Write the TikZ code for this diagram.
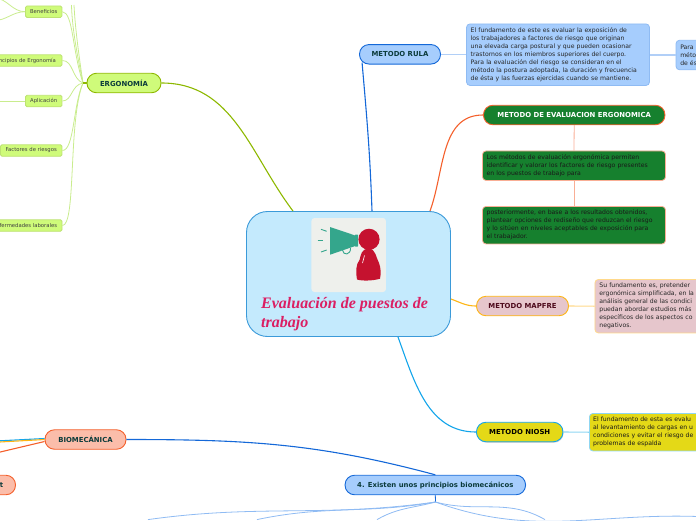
\documentclass[tikz,border=0pt]{standalone}
\usepackage{fontspec}
\setmainfont{DejaVu Sans}
\newfontfamily\titlefont{Liberation Serif}
\usetikzlibrary{shadows}
\definecolor{centerfill}{HTML}{C4EAFD}
\definecolor{centerline}{HTML}{3B9AD9}
\definecolor{titlepink}{HTML}{DB1F63}
\definecolor{iconbg}{HTML}{EEF0EC}
\definecolor{iconteal}{HTML}{34A68C}
\definecolor{iconred}{HTML}{C5122F}
\definecolor{limefill}{HTML}{CFFB7A}
\definecolor{limeline}{HTML}{8DB800}
\definecolor{limepale}{HTML}{C9EC8E}
\definecolor{bluefill}{HTML}{A6CDFD}
\definecolor{blueline}{HTML}{1468D8}
\definecolor{bluepale}{HTML}{8FBBF3}
\definecolor{evalfill}{HTML}{16802E}
\definecolor{orangeline}{HTML}{F4602C}
\definecolor{orangepale}{HTML}{F9AE95}
\definecolor{mapfill}{HTML}{E6C6CC}
\definecolor{mapline}{HTML}{FDB515}
\definecolor{mappale}{HTML}{FFD98A}
\definecolor{nioshfill}{HTML}{E4D917}
\definecolor{nioshline}{HTML}{13A5EA}
\definecolor{nioshpale}{HTML}{8FD6F2}
\definecolor{biofill}{HTML}{FBBDAA}
\definecolor{inkteal}{HTML}{0B3B3B}
\definecolor{inkmaroon}{HTML}{4E0A1C}
\tikzset{
  mainbox/.style={draw, line width=0.9pt, rounded corners=9.5pt, minimum height=19.5pt, inner sep=0pt, font=\fontsize{6.9}{8}\selectfont\bfseries},
  leafbox/.style={draw=limepale!80!limeline, line width=0.8pt, fill=limefill, rounded corners=1.5pt, minimum height=11.5pt, inner sep=0pt, text=black!75, font=\fontsize{5.3}{6}\selectfont},
  notebox/.style={draw, line width=0.8pt, rounded corners=3.5pt, inner sep=0pt, align=left, font=\fontsize{6.15}{8}\selectfont},
  mainlink/.style={line width=1.1pt},
  sublink/.style={line width=0.8pt}
}
\begin{document}
\begin{tikzpicture}[x=1pt,y=1pt]
\path[use as bounding box,clip] (0,0) rectangle (696,-520);

% central topic
\node[draw=centerline, line width=0.9pt, fill=centerfill, rounded corners=21pt, minimum width=204pt, minimum height=125pt, inner sep=0pt] (central) at (348.5,-274) {};
\node[fill=iconbg, rounded corners=3pt, minimum width=74.5pt, minimum height=74pt, inner sep=0pt] (iconback) at (348.7,-255) {};
% megaphone
\fill[iconteal] (330,-227) -- (356.7,-236) -- (356.7,-245.5) -- (330,-254.7) -- cycle;
\fill[iconteal, rounded corners=0.5pt] (355,-234.5) rectangle (358,-246.5);
\draw[iconteal, line width=0.9pt] (342.5,-250) .. controls (343,-256) and (351,-255) .. (350.5,-248);
\draw[iconteal, line width=0.9pt] (321,-229.3) -- (326.7,-231.3);
\draw[iconteal, line width=0.9pt] (317.7,-240.7) -- (323,-240.7);
\draw[iconteal, line width=0.9pt] (321,-252) -- (326.7,-250);
% person
\fill[iconred] (369,-239.3) circle (10.6);
\fill[iconred] (368.5,-248.7) .. controls (376,-248.5) and (376,-258) .. (379,-263) .. controls (381,-268) and (381,-274) .. (380,-278.7) .. controls (372,-281) and (362,-281) .. (357,-279.5) .. controls (355.5,-272) and (356,-264) .. (359.5,-260) .. controls (361,-255) and (361,-249) .. (368.5,-248.7) -- cycle;
\draw[white, line width=0.6pt] (364.5,-255.5) -- (362.5,-263);
\node[anchor=north west, inner sep=0pt, align=left, text=titlepink, font=\fontsize{16}{19}\titlefont\bfseries\itshape] (title) at (261,-297) {Evaluación de puestos de\\trabajo};

% main topics
\node[mainbox, draw=limeline, fill=limefill, text=inkteal, minimum width=74pt] (ergonomia) at (124,-83) {ERGONOMÍA};
\node[mainbox, draw=blueline, fill=bluefill, text=inkteal, minimum width=81pt] (rula) at (400,-54.3) {METODO RULA};
\node[mainbox, draw=orangeline, fill=evalfill, text=white, minimum width=181.5pt] (evaluacion) at (574.2,-115) {METODO DE EVALUACION ERGONOMICA};
\node[mainbox, draw=mapline, fill=mapfill, text=inkmaroon, minimum width=92pt] (mapfre) at (522.5,-306) {METODO MAPFRE};
\node[mainbox, draw=nioshline, fill=nioshfill, text=black, minimum width=86.5pt, drop shadow={shadow xshift=0.6pt,shadow yshift=-1pt,opacity=0.35}] (niosh) at (519.7,-432) {METODO NIOSH};
\node[mainbox, draw=orangeline, fill=biofill, text=inkteal, minimum width=81pt] (biomecanica) at (85.5,-439.5) {BIOMECÁNICA};
\node[mainbox, draw=orangeline, fill=biofill, text=inkteal, minimum width=28pt] (partial) at (1.5,-485) {t};
\node[mainbox, draw=blueline, fill=bluefill, text=inkteal, minimum width=180.5pt] (principios) at (435.3,-485) {4. Existen unos principios biomecánicos};

% ergonomia leaves
\node[leafbox, minimum width=36.5pt] (beneficios) at (43.7,-11.7) {Beneficios};
\node[leafbox, minimum width=76pt] (ergoprin) at (24,-60.5) {Principios de Ergonomía};
\node[leafbox, minimum width=36.5pt] (aplicacion) at (43.7,-101) {Aplicación};
\node[leafbox, minimum width=61.5pt] (factores) at (31.2,-150.5) {Factores de riesgos};
\node[leafbox, minimum width=74pt] (enfermedades) at (25,-225.5) {Enfermedades laborales};

% notes
\node[notebox, draw=bluepale, fill=bluefill, minimum width=183pt, minimum height=61.5pt, text=black!85, text width=174.6pt] (rulanote) at (558,-54.7) {El fundamento de este es evaluar la exposición de\\los trabajadores a factores de riesgo que originan\\una elevada carga postural y que pueden ocasionar\\trastornos en los miembros superiores del cuerpo.\\Para la evaluación del riesgo se consideran en el\\método la postura adoptada, la duración y frecuencia\\de ésta y las fuerzas ejercidas cuando se mantiene.};
\node[notebox, draw=bluepale, fill=bluefill, minimum width=60pt, minimum height=29.5pt, text=black!85, text width=51.5pt] (rulaextra) at (706,-55) {Para\\méto\\de és};
\node[notebox, draw=orangepale, fill=evalfill, minimum width=183pt, minimum height=29.5pt, text=black!90, text width=174.6pt] (evalone) at (574,-165.7) {Los métodos de evaluación ergonómica permiten\\identificar y valorar los factores de riesgo presentes\\en los puestos de trabajo para};
\node[notebox, draw=orangepale, fill=evalfill, minimum width=183pt, minimum height=37.5pt, text=black!90, text width=174.6pt] (evaltwo) at (574,-225.2) {posteriormente, en base a los resultados obtenidos,\\plantear opciones de rediseño que reduzcan el riesgo\\y lo sitúen en niveles aceptables de exposición para\\el trabajador.};
\node[notebox, draw=mappale, fill=mapfill, minimum width=130pt, minimum height=53.5pt, anchor=west, text=black!85, text width=121pt] (mapnote) at (594.5,-306.2) {Su fundamento es, pretender\\ergonómica simplificada, en la\\análisis general de las condici\\puedan abordar estudios más\\específicos de los aspectos co\\negativos.};
\node[notebox, draw=nioshpale, fill=nioshfill, minimum width=130pt, minimum height=37.5pt, anchor=west, text=black!90, text width=122.5pt] (nioshnote) at (589,-432.2) {El fundamento de esta es evalu\\al levantamiento de cargas en u\\condiciones y evitar el riesgo de\\problemas de espalda};

% free ends past the edge
\coordinate (ergofork) at (83,-83);
\coordinate (ergotopa) at (71.5,-5);
\coordinate (ergotopb) at (74,-5);
\coordinate (benea) at (-6,2);
\coordinate (beneb) at (-6,-20.5);
\coordinate (aplileft) at (-6,-101);
\coordinate (bioa) at (-4,-441);
\coordinate (biob) at (-4,-453);
\coordinate (fork) at (435.5,-502);
\coordinate (subone) at (148,-519.6);
\coordinate (subtwo) at (257,-519.6);
\coordinate (subthree) at (377,-519.6);
\coordinate (subfour) at (545,-519.6);
\coordinate (subfive) at (698,-516.5);

% main links
\draw[mainlink, limeline] (ergonomia.east) to[out=0,in=127] ([xshift=-55.5pt]central.north);
\draw[mainlink, blueline] (rula.south west) ++(3,2) to[out=-85,in=92] ([xshift=23.5pt]central.north);
\draw[mainlink, orangeline] (evaluacion.west) to[out=180,in=70] ([xshift=81.5pt]central.north);
\draw[mainlink, mapline] ([yshift=-25pt]central.east) to[out=-20,in=180] (mapfre.west);
\draw[mainlink, nioshline] ([xshift=49.5pt]central.south) to[out=-70,in=180] (niosh.west);
\draw[mainlink, blueline] (biomecanica.east) to[out=0,in=165] (principios.north);
\draw[mainlink, nioshline] ([yshift=1pt]biomecanica.west) -- (bioa);
\draw[mainlink, mapline] ([yshift=0pt]biomecanica.west) -- ([yshift=-1.2pt]bioa);
\draw[mainlink, orangeline] ([yshift=-2pt]biomecanica.west) -- (biob);

% leaf links
\draw[sublink, limepale] (beneficios.east) .. controls +(11,-1) and (72,-50) .. (ergofork);
\draw[sublink, limepale] (ergoprin.east) .. controls +(11,0) and (72,-79) .. (ergofork);
\draw[sublink, limepale] (aplicacion.east) .. controls +(10,0) and (71,-85) .. (ergofork);
\draw[sublink, limepale] (factores.east) .. controls +(12,0) and (73,-105) .. (ergofork);
\draw[sublink, limepale] (enfermedades.east) .. controls +(14,0) and (68,-120) .. (ergofork);
\draw[sublink, limepale] (ergofork) .. controls (76,-50) and (72,-25) .. (ergotopa);
\draw[sublink, limepale] (ergofork) .. controls (78,-50) and (75,-25) .. (ergotopb);
\draw[mainlink, limeline] (ergonomia.west) -- (ergofork);
\draw[sublink, limepale] (beneficios.west) to[out=180,in=0] (benea);
\draw[sublink, limepale] (beneficios.west) to[out=180,in=0] (beneb);
\draw[sublink, limepale] (aplicacion.west) -- (aplileft);

% note links
\draw[sublink, bluepale!70!white, line width=1.1pt] (rula.east) -- (rula.east -| rulanote.west);
\draw[sublink, bluepale!70!white, line width=1.1pt] (rulanote.east |- rulaextra.west) -- (rulaextra.west);
\draw[sublink, orangepale] (evaluacion.south) -- (evalone.north);
\draw[sublink, orangepale] (evalone.south) -- (evaltwo.north);
\draw[sublink, mappale, line width=1.1pt] (mapfre.east) -- (mapnote.west);
\draw[sublink, nioshpale, line width=1.1pt] (niosh.east) -- (nioshnote.west);

% fan below the principles
\draw[mainlink, blueline, line width=0.8pt] (principios.south) -- (fork);
\draw[sublink, bluepale] (fork) to[out=188,in=8] (subone);
\draw[sublink, bluepale] (fork) to[out=190,in=12] (subtwo);
\draw[sublink, bluepale] (fork) to[out=195,in=30] (subthree);
\draw[sublink, bluepale] (fork) to[out=-15,in=150] (subfour);
\draw[sublink, bluepale] (fork) to[out=-20,in=178] (subfive);
\end{tikzpicture}
\end{document}
